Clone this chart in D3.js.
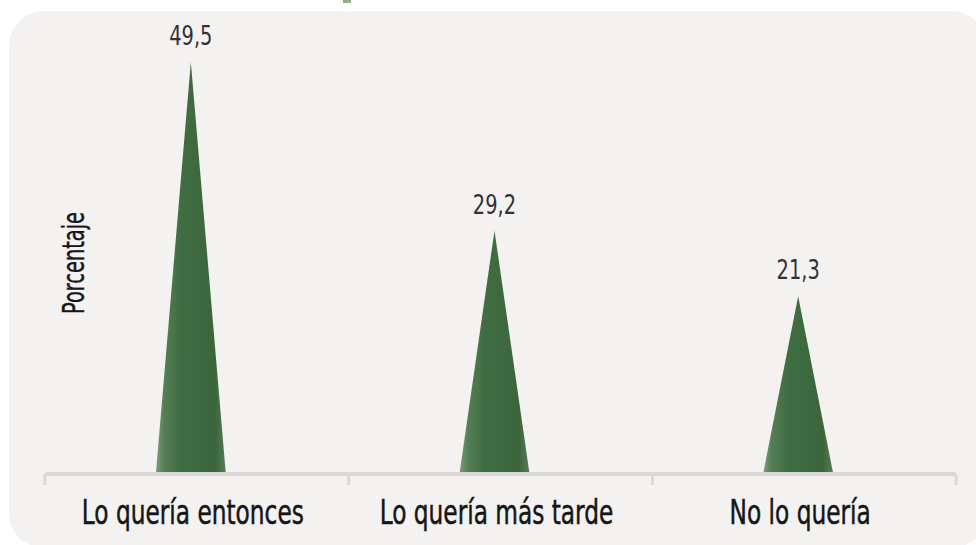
<!DOCTYPE html>
<html>
<head>
<meta charset="utf-8">
<script src="https://cdn.jsdelivr.net/npm/d3@7"></script>
<style>
  body { margin: 0; background: #fff; }
  svg { display: block; }
</style>
</head>
<body>
<div id="chart"></div>
<script>
const canvas = { w: 976, h: 545 };

const categories = ["Lo quería entonces", "Lo quería más tarde", "No lo quería"];
const values = [49.5, 29.2, 21.3];
const valueLabels = ["49,5", "29,2", "21,3"];
const yTitle = "Porcentaje";

const fontFam = "'Liberation Sans Narrow', 'DejaVu Sans Condensed', sans-serif";

const svg = d3.select("#chart")
  .append("svg")
  .attr("width", canvas.w)
  .attr("height", canvas.h);

const defs = svg.append("defs");
const grad = defs.append("linearGradient")
  .attr("id", "spike")
  .attr("x1", "0%").attr("x2", "100%")
  .attr("y1", "0%").attr("y2", "0%");
[["0%", "#7c9d7b"], ["12%", "#547f55"], ["35%", "#416d42"], ["85%", "#3b663c"], ["100%", "#557d56"]]
  .forEach(([o, c]) => grad.append("stop").attr("offset", o).attr("stop-color", c));

// panel
svg.append("rect")
  .attr("x", 9).attr("y", 11)
  .attr("width", 978).attr("height", 537)
  .attr("rx", 35)
  .attr("fill", "#f3f2f0");

// small cut-off title mark at the top
svg.append("rect")
  .attr("x", 343).attr("y", 0)
  .attr("width", 8).attr("height", 3)
  .attr("fill", "#8fae8c");

const x = d3.scaleBand()
  .domain(categories)
  .range([45, 956])
  .padding(0);

const y = d3.scaleLinear()
  .domain([0, 50])
  .range([473, 58]);

const g = svg.append("g");

// spikes
const baseW = x.bandwidth() * 0.23;
g.selectAll("path.spike")
  .data(categories)
  .enter()
  .append("path")
  .attr("class", "spike")
  .attr("fill", "url(#spike)")
  .attr("d", (d, i) => {
    const cx = x(d) + x.bandwidth() / 2 - 6;
    return `M${cx - baseW / 2},${y(0)} L${cx},${y(values[i])} L${cx + baseW / 2},${y(0)} Z`;
  });

// value labels
g.selectAll("text.val")
  .data(categories)
  .enter()
  .append("text")
  .attr("class", "val")
  .attr("x", d => x(d) + x.bandwidth() / 2 - 6)
  .attr("y", (d, i) => y(values[i]) - 17)
  .attr("text-anchor", "middle")
  .attr("font-family", fontFam)
  .attr("font-size", 27)
  .attr("fill", "#333")
  .text((d, i) => valueLabels[i])
  .each(function () {
    const len = this.getComputedTextLength();
    d3.select(this).attr("textLength", len * 0.8).attr("lengthAdjust", "spacingAndGlyphs");
  });

// x axis
const axis = g.append("g")
  .attr("transform", `translate(0,${y(0)})`)
  .call(d3.axisBottom(x).tickValues([]).tickSizeOuter(0));
axis.select(".domain").remove();

const edges = categories.map(d => x(d)).concat([x.range()[1]]);
axis.append("line")
  .attr("x1", x.range()[0]).attr("x2", x.range()[1])
  .attr("y1", 1).attr("y2", 1)
  .attr("stroke", "#dcd9d5")
  .attr("stroke-width", 4);
axis.selectAll("line.tk")
  .data(edges)
  .enter()
  .append("line")
  .attr("class", "tk")
  .attr("x1", d => d).attr("x2", d => d)
  .attr("y1", 1).attr("y2", 12)
  .attr("stroke", "#dcd9d5")
  .attr("stroke-width", 3);

// category labels
axis.selectAll("text.cat")
  .data(categories)
  .enter()
  .append("text")
  .attr("class", "cat")
  .attr("x", d => x(d) + x.bandwidth() / 2 - 4)
  .attr("y", 51)
  .attr("text-anchor", "middle")
  .attr("font-family", fontFam)
  .attr("font-size", 34)
  .attr("fill", "#161616")
  .attr("stroke", "#161616")
  .attr("stroke-width", 0.5)
  .text(d => d);

const first = axis.select("text.cat").node().getComputedTextLength();
const squeeze = 222 / first;
axis.selectAll("text.cat").each(function () {
  const len = this.getComputedTextLength();
  d3.select(this).attr("textLength", len * squeeze).attr("lengthAdjust", "spacingAndGlyphs");
});

// y title
svg.append("text")
  .attr("transform", "translate(84,263) rotate(-90)")
  .attr("text-anchor", "middle")
  .attr("font-family", fontFam)
  .attr("font-size", 31)
  .attr("fill", "#161616")
  .attr("stroke", "#161616")
  .attr("stroke-width", 0.4)
  .attr("textLength", 102)
  .attr("lengthAdjust", "spacingAndGlyphs")
  .text(yTitle);
</script>
</body>
</html>
